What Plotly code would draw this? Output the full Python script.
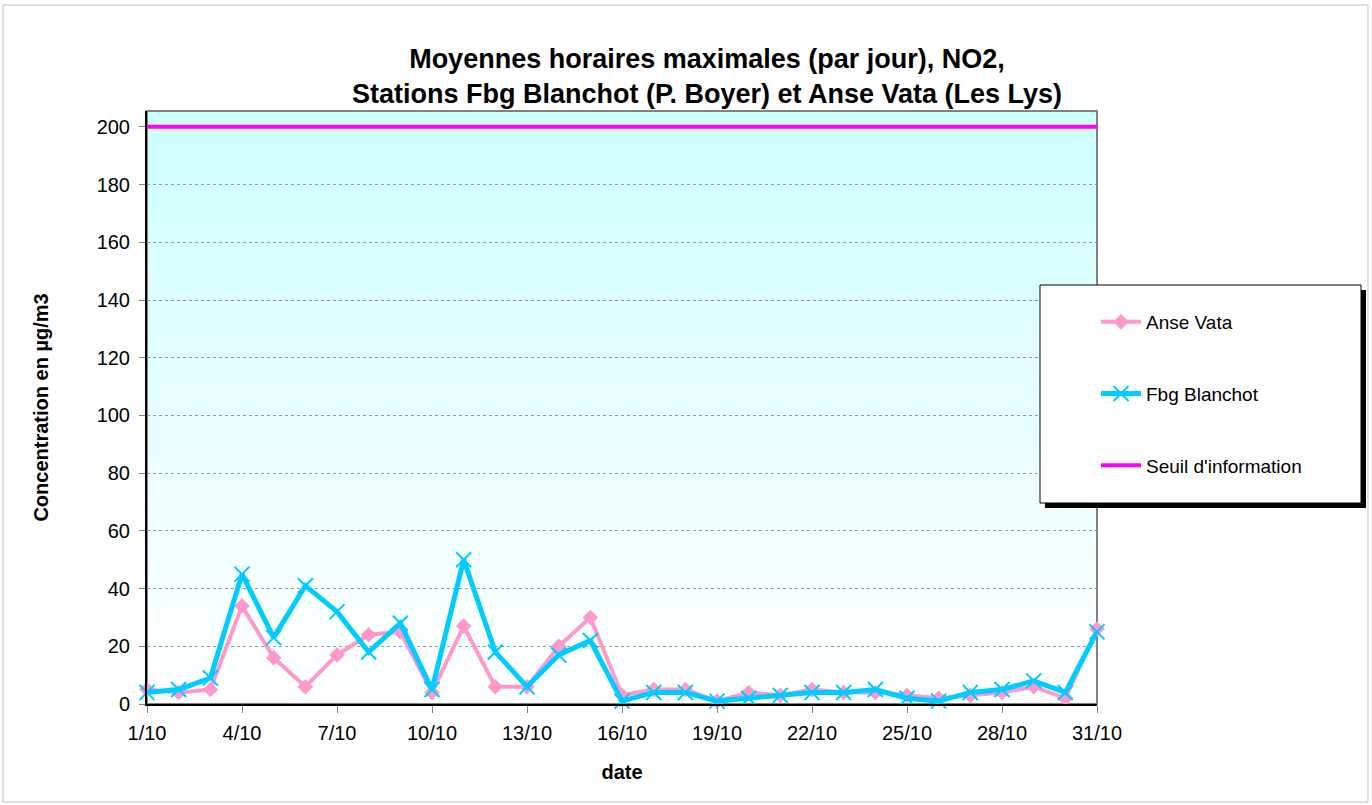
import plotly.graph_objects as go

days = list(range(1, 32))
tick_days = [1, 4, 7, 10, 13, 16, 19, 22, 25, 28, 31]
tick_labels = ["1/10", "4/10", "7/10", "10/10", "13/10", "16/10", "19/10", "22/10", "25/10", "28/10", "31/10"]

anse_vata = [5, 4, 5, 34, 16, 6, 17, 24, 25, 4, 27, 6, 6, 20, 30, 3, 5, 5, 1, 4, 3, 5, 4, 4, 3, 2, 3, 4, 6, 2, 26]
fbg_blanchot = [4, 5, 9, 45, 23, 41, 32, 18, 28, 5, 50, 18, 6, 17, 22, 1, 4, 4, 1, 2, 3, 4, 4, 5, 2, 1, 4, 5, 8, 4, 25]
seuil = [200] * 31

W, H = 1372, 805
L, R, T, B = 147, 1097, 111, 704

def px(x):
    return (x - L) / (R - L)

def py(y):
    return (B - y) / (B - T)

fig = go.Figure()

fig.add_trace(go.Scatter(
    x=days, y=anse_vata, name="Anse Vata", mode="lines+markers",
    line=dict(color="#ff99cc", width=4),
    marker=dict(symbol="diamond", size=12, color="#ff99cc"),
    legendgroup="a", cliponaxis=False,
))
fig.add_trace(go.Scatter(
    x=days, y=fbg_blanchot, name="Fbg Blanchot", mode="lines+markers",
    line=dict(color="#00ccff", width=5),
    marker=dict(symbol="x-thin", size=15, color="#00ccff", line=dict(color="#00ccff", width=2)),
    legendgroup="b", cliponaxis=False,
))
fig.add_trace(go.Scatter(
    x=days, y=seuil, name="Seuil d'information", mode="lines",
    line=dict(color="#ff00ff", width=4),
    legendgroup="c",
))

shapes = []
# gradient background of plot area
n = 80
for i in range(n):
    f = i / (n - 1)
    r = int(round(0xcc + (0xff - 0xcc) * f))
    col = "rgb(%d,255,255)" % r
    shapes.append(dict(type="rect", xref="paper", yref="paper",
                       x0=0, x1=1, y0=1 - (i + 1) / n, y1=1 - i / n,
                       fillcolor=col, line=dict(width=0), layer="below"))
# plot area border (gray)
shapes.append(dict(type="rect", xref="paper", yref="paper", x0=0, x1=1, y0=0, y1=1,
                   line=dict(color="#808080", width=2), layer="below"))
# outer chart border
shapes.append(dict(type="rect", xref="paper", yref="paper",
                   x0=px(3), x1=px(1368), y0=py(802), y1=py(5),
                   line=dict(color="#c0c0c0", width=1)))
# legend shadow and box
shapes.append(dict(type="rect", xref="paper", yref="paper",
                   x0=px(1045), x1=px(1366), y0=py(508), y1=py(290),
                   fillcolor="black", line=dict(width=0)))
shapes.append(dict(type="rect", xref="paper", yref="paper",
                   x0=px(1040), x1=px(1361), y0=py(503), y1=py(285),
                   fillcolor="white", line=dict(color="black", width=1)))

fig.update_layout(
    width=W, height=H,
    margin=dict(l=L, r=W - R, t=T, b=H - B),
    paper_bgcolor="white",
    plot_bgcolor="rgba(0,0,0,0)",
    font=dict(family="Liberation Sans, Arial, sans-serif", size=20, color="black"),
    title=dict(
        text="<b>Moyennes horaires maximales (par jour), NO2,<br>Stations Fbg Blanchot (P. Boyer) et Anse Vata (Les Lys)</b>",
        x=707 / W, xanchor="center", y=1 - 68 / H, yanchor="middle",
        font=dict(size=27, color="black"),
    ),
    xaxis=dict(
        range=[1, 31], tickvals=tick_days, ticktext=tick_labels,
        showgrid=False, zeroline=False,
        showline=True, linecolor="black", linewidth=2,
        ticks="outside", ticklen=7, tickcolor="#808080", tickwidth=1,
        ticklabelstandoff=3,
        tickfont=dict(size=20),
        title=dict(text="<b>date</b>", font=dict(size=20), standoff=22),
    ),
    yaxis=dict(
        range=[0, 205.5], tickvals=list(range(0, 201, 20)),
        showgrid=True, gridcolor="#9a9a9a", griddash="dot", gridwidth=1,
        zeroline=False,
        showline=True, linecolor="black", linewidth=2,
        ticks="outside", ticklen=6, tickcolor="#808080", tickwidth=1,
        ticklabelstandoff=5,
        tickfont=dict(size=20),
        title=dict(text="<b>Concentration en µg/m3</b>", font=dict(size=20), standoff=43),
    ),
    legend=dict(
        x=px(1096), y=py(303), xanchor="left", yanchor="top",
        bgcolor="rgba(0,0,0,0)", borderwidth=0,
        tracegroupgap=44, traceorder="grouped",
        font=dict(size=19), itemwidth=40,
    ),
    shapes=shapes,
)

fig.write_html("out.html", config={"displayModeBar": False},
               post_script="document.body.style.margin='0';")
